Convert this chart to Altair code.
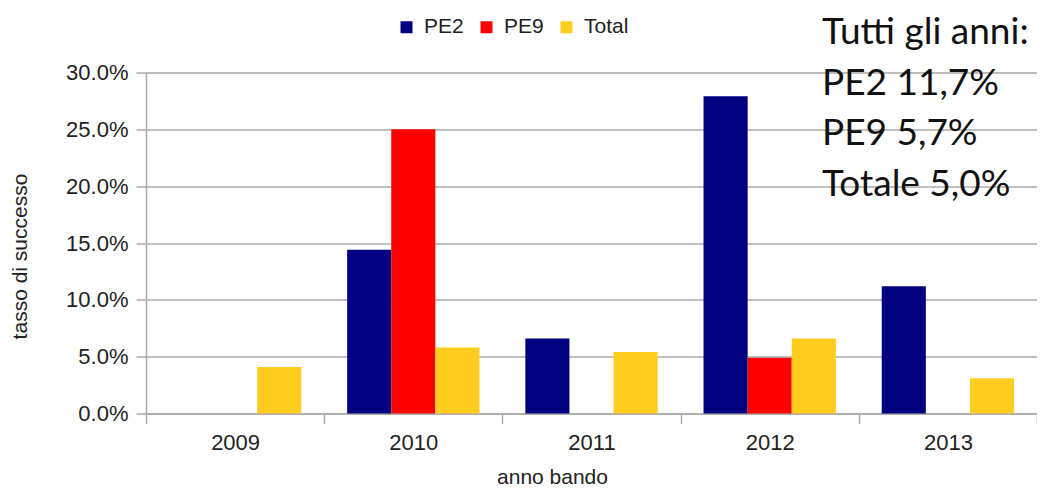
import altair as alt
import pandas as pd

years = ["2009", "2010", "2011", "2012", "2013"]
series_names = ["PE2", "PE9", "Total"]
pe2_values = [0.0, 0.144, 0.066, 0.279, 0.112]
pe9_values = [0.0, 0.250, 0.0, 0.049, 0.0]
total_values = [0.041, 0.058, 0.054, 0.066, 0.031]
series_colors = ["#000080", "#ff0000", "#ffcc1f"]
y_ticks = [0.0, 0.05, 0.10, 0.15, 0.20, 0.25, 0.30]
note_lines = ["Tutti gli anni:", "PE2 11,7%", "PE9 5,7%", "Totale 5,0%"]

rows = []
for name, vals in zip(series_names, [pe2_values, pe9_values, total_values]):
    for yr, v in zip(years, vals):
        rows.append({"anno": yr, "serie": name, "tasso": v})
df = pd.DataFrame(rows)

FONT = "Liberation Sans"
TXT = "#222222"
GRID = "#ababab"

bars = alt.Chart(df).mark_bar().encode(
    x=alt.X(
        "anno:N",
        sort=years,
        scale=alt.Scale(paddingInner=0, paddingOuter=0),
        axis=alt.Axis(
            title="anno bando",
            labelAngle=0,
            grid=False,
            tickBand="extent",
            tickSize=10,
            tickColor=GRID,
            tickWidth=1.5,
            domainColor=GRID,
            domainWidth=1.5,
            labelFont=FONT,
            labelFontSize=22,
            labelColor=TXT,
            labelPadding=9,
            titleFont=FONT,
            titleFontSize=21,
            titleFontWeight="normal",
            titleColor=TXT,
            titleX=406,
            titleY=70,
            titleAlign="center",
            titleBaseline="alphabetic",
        ),
    ),
    xOffset=alt.XOffset("serie:N", sort=series_names, scale=alt.Scale(paddingInner=0, paddingOuter=0.52)),
    y=alt.Y(
        "tasso:Q",
        scale=alt.Scale(domain=[0, 0.30], nice=False),
        axis=alt.Axis(
            title="tasso di successo",
            format=".1%",
            values=y_ticks,
            grid=True,
            gridColor=GRID,
            gridWidth=1.5,
            tickSize=10,
            tickColor=GRID,
            tickWidth=1.5,
            domainColor=GRID,
            domainWidth=1.5,
            labelFont=FONT,
            labelFontSize=22,
            labelColor=TXT,
            labelPadding=8,
            titleFont=FONT,
            titleFontSize=21,
            titleFontWeight="normal",
            titleColor=TXT,
            titleX=-126,
            titleY=183.5,
            titleAlign="center",
            titleBaseline="middle",
        ),
    ),
    color=alt.Color(
        "serie:N",
        sort=series_names,
        scale=alt.Scale(domain=series_names, range=series_colors),
        legend=alt.Legend(
            title=None,
            orient="none",
            direction="horizontal",
            legendX=250,
            legendY=-56,
            symbolType="square",
            symbolSize=144,
            symbolStrokeWidth=0,
            symbolOpacity=1,
            labelFont=FONT,
            labelFontSize=21,
            labelColor=TXT,
            labelOffset=7,
            columnPadding=12,
            padding=0,
        ),
    ),
)

note = alt.Chart(pd.DataFrame({"k": [0]})).mark_text(
    text=note_lines,
    font="Lato",
    fontSize=37,
    color="#111111",
    align="left",
    baseline="alphabetic",
    lineHeight=50.7,
).encode(x=alt.value(676), y=alt.value(-28.5))

chart = alt.layer(bars, note).properties(
    width=891,
    height=341,
    autosize=alt.AutoSizeParams(type="none"),
    padding={"left": 138, "top": 64.5, "right": 0, "bottom": 74.5},
).configure_view(stroke=None).configure(background="white")

chart.save("out.html", embed_options={"renderer": "svg", "actions": False})
